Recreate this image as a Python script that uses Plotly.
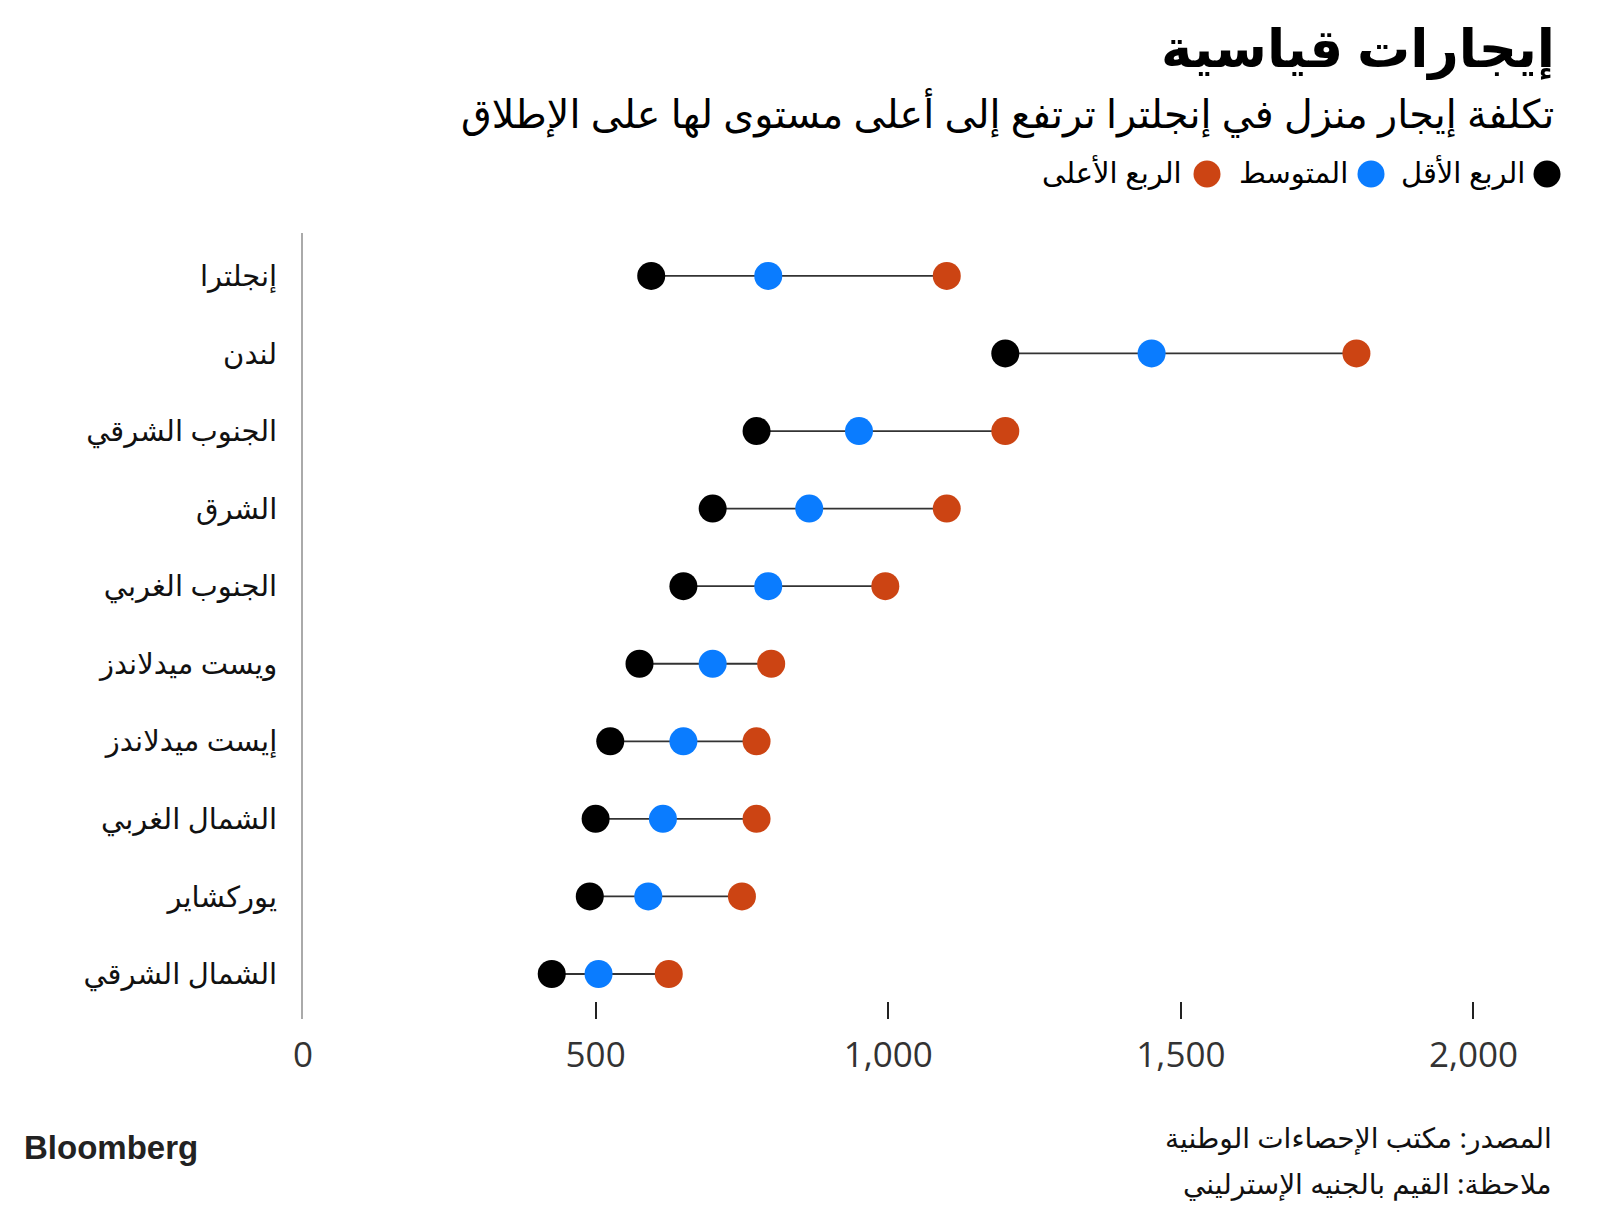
import plotly.graph_objects as go

regions = ["إنجلترا", "لندن", "الجنوب الشرقي", "الشرق", "الجنوب الغربي",
           "ويست ميدلاندز", "إيست ميدلاندز", "الشمال الغربي", "يوركشاير", "الشمال الشرقي"]
lower_quartile = [595, 1200, 775, 700, 650, 575, 525, 500, 490, 425]
median = [795, 1450, 950, 865, 795, 700, 650, 615, 590, 505]
upper_quartile = [1100, 1800, 1200, 1100, 995, 800, 775, 775, 750, 625]

x_ticks = [0, 500, 1000, 1500, 2000]
x_ticktext = ["0", "500", "1,000", "1,500", "2,000"]

title = "إيجارات قياسية"
subtitle = "تكلفة إيجار منزل في إنجلترا ترتفع إلى أعلى مستوى لها على الإطلاق"
legend_names = ["الربع الأقل", "المتوسط", "الربع الأعلى"]
source = "المصدر: مكتب الإحصاءات الوطنية"
note = "ملاحظة: القيم بالجنيه الإسترليني"

C_LOW = "#000000"
C_MED = "#0a7cff"
C_HIGH = "#cc4413"

W, H = 1600, 1215
ML, MR, MT, MB = 295, 76, 225, 204
PW = W - ML - MR
PH = H - MT - MB

def px(x):
    return (x - ML) / PW

def py(y):
    return (H - MB - y) / PH

AR_FONT = "Noto Sans, DejaVu Sans, sans-serif"

fig = go.Figure()

# connector lines
lx, ly = [], []
for r, lo, hi in zip(regions, lower_quartile, upper_quartile):
    lx += [lo, hi, None]
    ly += [r, r, None]
fig.add_trace(go.Scatter(x=lx, y=ly, mode="lines", line=dict(color="#333333", width=1.8),
                         hoverinfo="skip", showlegend=False))

for vals, col, name in [(lower_quartile, C_LOW, legend_names[0]),
                        (median, C_MED, legend_names[1]),
                        (upper_quartile, C_HIGH, legend_names[2])]:
    fig.add_trace(go.Scatter(x=vals, y=regions, mode="markers", name=name,
                             marker=dict(color=col, size=28, line=dict(width=0)),
                             showlegend=False))

fig.update_layout(
    width=W, height=H,
    margin=dict(l=ML, r=MR, t=MT, b=MB),
    paper_bgcolor="white", plot_bgcolor="white",
    xaxis=dict(range=[0, 2100], tickvals=x_ticks, ticktext=x_ticktext,
               showgrid=False, zeroline=False, showline=False,
               ticks="inside", ticklen=17, tickwidth=2, tickcolor="#222222",
               ticklabelstandoff=12,
               tickfont=dict(family="Open Sans, sans-serif", size=35, color="#333333")),
    yaxis=dict(type="category", categoryorder="array", categoryarray=regions,
               range=[9.58, -0.553], showgrid=False, zeroline=False,
               showline=True, linecolor="#aaaaaa", linewidth=2, ticks="",
               ticklabelstandoff=18,
               tickfont=dict(family=AR_FONT, size=29, color="#111111")),
    showlegend=False,
)

ann = []
ann.append(dict(text="<b>" + title + "</b>", x=px(1549), y=py(39), xanchor="right", yanchor="middle",
                font=dict(family=AR_FONT, size=53, color="#000000")))
ann.append(dict(text=subtitle, x=px(1548), y=py(105), xanchor="right", yanchor="middle",
                font=dict(family=AR_FONT, size=39.6, color="#000000")))

# legend (RTL: circle to the right of its text)
leg = [(1539, 1519, C_LOW, legend_names[0]),
       (1363, 1342, C_MED, legend_names[1]),
       (1199, 1176, C_HIGH, legend_names[2])]
shapes = []
for cx, tx, col, name in leg:
    shapes.append(dict(type="circle", xref="paper", yref="paper", xsizemode="pixel", ysizemode="pixel",
                       xanchor=px(cx), yanchor=py(166), x0=-13.5, x1=13.5, y0=-13.5, y1=13.5,
                       fillcolor=col, line=dict(width=0)))
    ann.append(dict(text=name, x=px(tx), y=py(164), xanchor="right", yanchor="middle",
                    font=dict(family=AR_FONT, size=29, color="#000000")))

ann.append(dict(text="<b>Bloomberg</b>", x=px(14), y=py(1139), xanchor="left", yanchor="middle",
                font=dict(family="Liberation Sans, Arial, sans-serif", size=33, color="#222222")))
ann.append(dict(text=source, x=px(1546), y=py(1129), xanchor="right", yanchor="middle",
                font=dict(family=AR_FONT, size=28, color="#111111")))
ann.append(dict(text=note, x=px(1546), y=py(1175), xanchor="right", yanchor="middle",
                font=dict(family=AR_FONT, size=28, color="#111111")))

for a in ann:
    a.update(xref="paper", yref="paper", showarrow=False)
fig.update_layout(annotations=ann, shapes=shapes)

fig.write_html("out.html")
